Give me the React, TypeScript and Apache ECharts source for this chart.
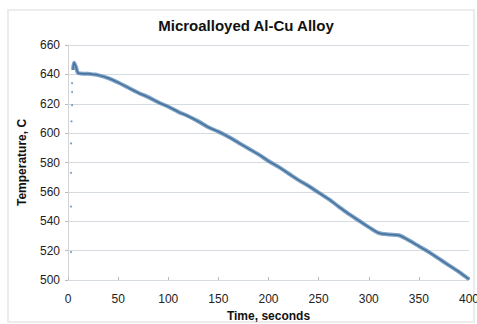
import React, { useEffect, useRef } from "react";
import * as echarts from "echarts";

const TITLE = "Microalloyed Al-Cu Alloy";
const X_NAME = "Time, seconds";
const Y_NAME = "Temperature, C";

// initial thermocouple rise (scattered dots near t=0)
const riseTimes = [3, 3, 3, 3, 3.5, 4, 4, 4];
const riseTemps = [519, 550, 573, 593, 608, 619, 628, 634];

// cooling curve
const coolTimes = [5, 6, 8, 10, 15, 20, 25, 30, 40, 50, 60, 70, 80, 90, 100, 110, 120, 130, 140, 150, 160, 170, 180, 190, 200, 210, 220, 230, 240, 250, 260, 270, 280, 290, 300, 310, 320, 330, 340, 350, 360, 370, 380, 390, 400];
const coolTemps = [643, 648, 645, 641, 640.5, 640.5, 640, 639.5, 637.5, 634.5, 631, 627.5, 624.5, 621, 618, 614.5, 611.5, 608, 604, 601, 597.5, 593.5, 589.5, 585.5, 581, 577, 572.5, 568, 564, 559.5, 555, 550, 545, 540.5, 536, 532, 531, 530.5, 527, 523, 519, 514.5, 510, 505.5, 500.5];

export default function App() {
  const ref = useRef<HTMLDivElement>(null);
  useEffect(() => {
    document.body.style.margin = "0";
    document.documentElement.style.overflow = "hidden";
    const chart = echarts.init(ref.current!, null, { renderer: "svg" });
    const font = "Liberation Sans, Arial, sans-serif";
    chart.setOption({
      animation: false,
      backgroundColor: "#fff",
      graphic: [
        { type: "rect", shape: { x: 8, y: 10, width: 466, height: 312 }, style: { fill: "none", stroke: "#ececec", lineWidth: 2 }, silent: true },
        { type: "text", x: 246, y: 25, style: { text: TITLE, fontFamily: font, fontSize: 15, fontWeight: "bold", fill: "#111", textAlign: "center", textVerticalAlign: "middle" } },
      ],
      grid: { left: 68, right: 8, top: 45, bottom: 44, containLabel: false, outerBoundsMode: "none" },
      xAxis: {
        type: "value",
        min: 0,
        max: 400,
        interval: 50,
        name: X_NAME,
        nameLocation: "middle",
        nameGap: 29,
        nameTextStyle: { fontFamily: font, fontSize: 12, fontWeight: "bold", color: "#111" },
        axisLine: { show: false },
        axisTick: { show: true, length: 3, inside: true, lineStyle: { color: "#bbb" } },
        axisLabel: { fontFamily: font, fontSize: 12, color: "#222", margin: 13, alignMinLabel: "center", alignMaxLabel: "center" },
        splitLine: { show: false },
      },
      yAxis: {
        type: "value",
        min: 500,
        max: 660,
        interval: 20,
        name: Y_NAME,
        nameLocation: "middle",
        nameGap: 40,
        nameTextStyle: { fontFamily: font, fontSize: 12, fontWeight: "bold", color: "#111" },
        axisLine: { show: true, lineStyle: { color: "#d4d4d4" } },
        axisTick: { show: true, length: 3, lineStyle: { color: "#bbb" } },
        axisLabel: { fontFamily: font, fontSize: 12, color: "#222", margin: 8 },
        splitLine: { show: true, lineStyle: { color: "#d6dbe2", width: 1 } },
      },
      series: [
        {
          type: "line",
          data: coolTimes.map((t, i) => [t, coolTemps[i]]),
          smooth: 0.3,
          showSymbol: false,
          lineStyle: { color: "#6a93bb", width: 4, opacity: 0.85 },
          z: 2,
        },
        {
          type: "line",
          data: coolTimes.map((t, i) => [t, coolTemps[i]]),
          smooth: 0.3,
          showSymbol: false,
          lineStyle: { color: "#46729e", width: 1.5 },
          z: 3,
        },
        {
          type: "scatter",
          data: riseTimes.map((t, i) => [t, riseTemps[i]]),
          symbolSize: 2,
          itemStyle: { color: "#5a86b2" },
          z: 4,
        },
      ],
    });
    return () => chart.dispose();
  }, []);
  return <div ref={ref} style={{ width: 477, height: 324, display: "block" }} />;
}
